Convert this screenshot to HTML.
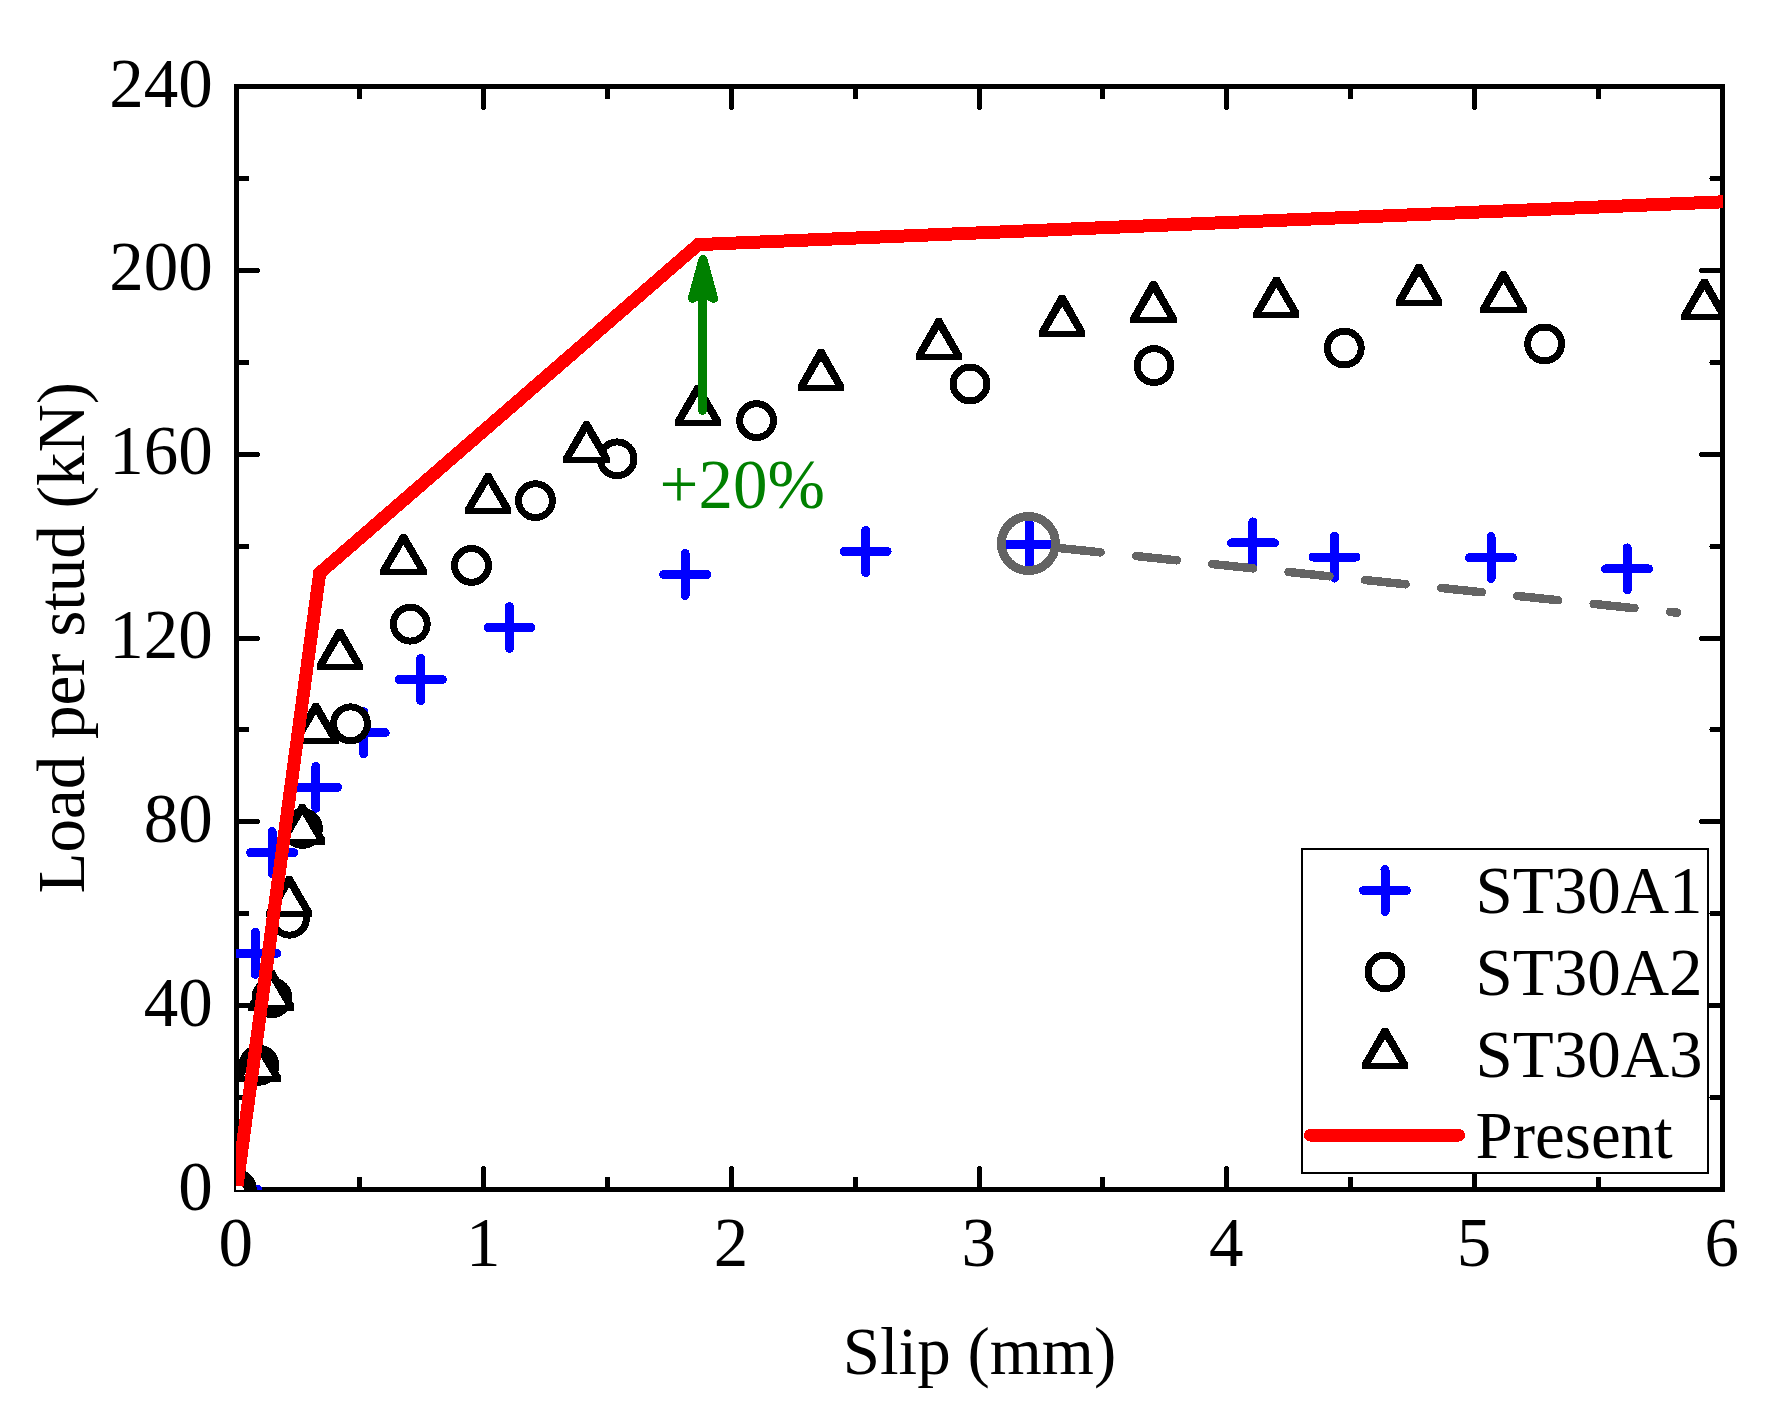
<!DOCTYPE html>
<html lang="en"><head><meta charset="utf-8"><title>Load per stud vs Slip</title>
<style>html,body{margin:0;padding:0;background:#fff;}svg{display:block;}text{font-family:'Liberation Serif', serif;font-size:67px;fill:#000;}</style>
</head><body>
<svg width="1782" height="1415" viewBox="0 0 1782 1415" shape-rendering="crispEdges">
<rect x="0" y="0" width="1782" height="1415" fill="#fff"/>
<defs><clipPath id="plot"><rect x="236" y="86" width="1487" height="1104"/></clipPath></defs>
<g stroke="#000" stroke-width="5" fill="none" stroke-linecap="round">
<path d="M359.50 1189.50v-10.50 M359.50 86.50v10.50"/>
<path d="M483.50 1189.50v-21.00 M483.50 86.50v21.00"/>
<path d="M607.50 1189.50v-10.50 M607.50 86.50v10.50"/>
<path d="M731.50 1189.50v-21.00 M731.50 86.50v21.00"/>
<path d="M855.50 1189.50v-10.50 M855.50 86.50v10.50"/>
<path d="M979.50 1189.50v-21.00 M979.50 86.50v21.00"/>
<path d="M1102.50 1189.50v-10.50 M1102.50 86.50v10.50"/>
<path d="M1226.50 1189.50v-21.00 M1226.50 86.50v21.00"/>
<path d="M1350.50 1189.50v-10.50 M1350.50 86.50v10.50"/>
<path d="M1474.50 1189.50v-21.00 M1474.50 86.50v21.00"/>
<path d="M1598.50 1189.50v-10.50 M1598.50 86.50v10.50"/>
<path d="M236.50 1097.50h10.50 M1722.50 1097.50h-10.50"/>
<path d="M236.50 1005.50h21.00 M1722.50 1005.50h-21.00"/>
<path d="M236.50 913.50h10.50 M1722.50 913.50h-10.50"/>
<path d="M236.50 821.50h21.00 M1722.50 821.50h-21.00"/>
<path d="M236.50 729.50h10.50 M1722.50 729.50h-10.50"/>
<path d="M236.50 638.50h21.00 M1722.50 638.50h-21.00"/>
<path d="M236.50 546.50h10.50 M1722.50 546.50h-10.50"/>
<path d="M236.50 454.50h21.00 M1722.50 454.50h-21.00"/>
<path d="M236.50 362.50h10.50 M1722.50 362.50h-10.50"/>
<path d="M236.50 270.50h21.00 M1722.50 270.50h-21.00"/>
<path d="M236.50 178.50h10.50 M1722.50 178.50h-10.50"/>
</g>
<rect x="236.50" y="86.50" width="1486.00" height="1103.00" fill="none" stroke="#000" stroke-width="5" shape-rendering="crispEdges"/>
<g clip-path="url(#plot)">
<g stroke="#0000ff" stroke-width="9" stroke-linecap="round">
<path d="M215.00 1189.50h43 M236.50 1168.50v42"/>
<path d="M233.80 953.30h43 M255.30 932.30v42"/>
<path d="M250.60 852.60h43 M272.10 831.60v42"/>
<path d="M294.40 787.30h43 M315.90 766.30v42"/>
<path d="M342.20 732.70h43 M363.70 711.70v42"/>
<path d="M399.30 679.50h43 M420.80 658.50v42"/>
<path d="M488.00 627.50h43 M509.50 606.50v42"/>
<path d="M663.70 574.50h43 M685.20 553.50v42"/>
<path d="M844.20 551.50h43 M865.70 530.50v42"/>
<path d="M1008.00 544.50h43 M1029.50 523.50v42"/>
<path d="M1231.40 542.90h43 M1252.90 521.90v42"/>
<path d="M1313.00 557.10h43 M1334.50 536.10v42"/>
<path d="M1469.50 557.60h43 M1491.00 536.60v42"/>
<path d="M1605.70 568.90h43 M1627.20 547.90v42"/>
</g>
<g stroke="#000" stroke-width="7" fill="#fff">
<circle cx="236.50" cy="1189.50" r="16.9"/>
<circle cx="259.00" cy="1065.30" r="16.9"/>
<circle cx="271.90" cy="997.70" r="16.9"/>
<circle cx="289.50" cy="918.20" r="16.9"/>
<circle cx="302.40" cy="828.40" r="16.9"/>
<circle cx="350.50" cy="723.80" r="16.9"/>
<circle cx="410.30" cy="624.20" r="16.9"/>
<circle cx="471.50" cy="565.40" r="16.9"/>
<circle cx="535.50" cy="500.70" r="16.9"/>
<circle cx="617.10" cy="458.80" r="16.9"/>
<circle cx="756.60" cy="420.60" r="16.9"/>
<circle cx="970.00" cy="384.00" r="16.9"/>
<circle cx="1154.00" cy="365.60" r="16.9"/>
<circle cx="1344.30" cy="348.10" r="16.9"/>
<circle cx="1544.60" cy="343.90" r="16.9"/>
</g>
<path fill="#000" d="M213.45 1206.50v-5.9L233.80 1164.50h5.4L259.55 1200.60v5.9z"/>
<path fill="#fff" d="M222.30 1200.55L236.50 1176.40L250.70 1200.55z"/>
<path fill="#000" d="M234.95 1082.30v-5.9L255.30 1041.00h5.4L281.05 1076.40v5.9z"/>
<path fill="#fff" d="M243.80 1076.35L258.00 1052.20L272.20 1076.35z"/>
<path fill="#000" d="M248.35 1010.90v-5.9L268.70 969.60h5.4L294.45 1005.00v5.9z"/>
<path fill="#fff" d="M257.20 1004.95L271.40 980.80L285.60 1004.95z"/>
<path fill="#000" d="M266.15 917.30v-5.9L286.50 876.20h5.4L312.25 911.40v5.9z"/>
<path fill="#fff" d="M275.00 911.35L289.20 887.20L303.40 911.35z"/>
<path fill="#000" d="M279.35 844.90v-5.9L299.70 804.10h5.4L325.45 839.00v5.9z"/>
<path fill="#fff" d="M288.20 838.95L302.40 814.80L316.60 838.95z"/>
<path fill="#000" d="M292.85 744.20v-5.9L313.20 703.10h5.4L338.95 738.30v5.9z"/>
<path fill="#fff" d="M301.70 738.25L315.90 714.10L330.10 738.25z"/>
<path fill="#000" d="M316.75 670.10v-5.9L337.10 628.70h5.4L362.85 664.20v5.9z"/>
<path fill="#fff" d="M325.60 664.15L339.80 640.00L354.00 664.15z"/>
<path fill="#000" d="M380.45 574.90v-5.9L400.80 534.20h5.4L426.55 569.00v5.9z"/>
<path fill="#fff" d="M389.30 568.95L403.50 544.80L417.70 568.95z"/>
<path fill="#000" d="M465.05 513.90v-5.9L485.40 473.20h5.4L511.15 508.00v5.9z"/>
<path fill="#fff" d="M473.90 507.95L488.10 483.80L502.30 507.95z"/>
<path fill="#000" d="M563.45 462.50v-5.9L583.80 421.40h5.4L609.55 456.60v5.9z"/>
<path fill="#fff" d="M572.30 456.55L586.50 432.40L600.70 456.55z"/>
<path fill="#000" d="M674.95 426.00v-5.9L695.30 384.70h5.4L721.05 420.10v5.9z"/>
<path fill="#fff" d="M683.80 420.05L698.00 395.90L712.20 420.05z"/>
<path fill="#000" d="M797.95 390.90v-5.9L818.30 348.90h5.4L844.05 385.00v5.9z"/>
<path fill="#fff" d="M806.80 384.95L821.00 360.80L835.20 384.95z"/>
<path fill="#000" d="M915.75 359.85v-5.9L936.10 318.40h5.4L961.85 353.95v5.9z"/>
<path fill="#fff" d="M924.60 353.90L938.80 329.75L953.00 353.90z"/>
<path fill="#000" d="M1039.05 336.70v-5.9L1059.40 294.90h5.4L1085.15 330.80v5.9z"/>
<path fill="#fff" d="M1047.90 330.75L1062.10 306.60L1076.30 330.75z"/>
<path fill="#000" d="M1130.45 322.90v-5.9L1150.80 281.10h5.4L1176.55 317.00v5.9z"/>
<path fill="#fff" d="M1139.30 316.95L1153.50 292.80L1167.70 316.95z"/>
<path fill="#000" d="M1253.35 317.90v-5.9L1273.70 276.80h5.4L1299.45 312.00v5.9z"/>
<path fill="#fff" d="M1262.20 311.95L1276.40 287.80L1290.60 311.95z"/>
<path fill="#000" d="M1395.95 305.80v-5.9L1416.30 264.00h5.4L1442.05 299.90v5.9z"/>
<path fill="#fff" d="M1404.80 299.85L1419.00 275.70L1433.20 299.85z"/>
<path fill="#000" d="M1480.45 313.10v-5.9L1500.80 271.20h5.4L1526.55 307.20v5.9z"/>
<path fill="#fff" d="M1489.30 307.15L1503.50 283.00L1517.70 307.15z"/>
<path fill="#000" d="M1681.35 320.10v-5.9L1701.70 278.70h5.4L1727.45 314.20v5.9z"/>
<path fill="#fff" d="M1690.20 314.15L1704.40 290.00L1718.60 314.15z"/>
<g stroke="#646464" stroke-width="8.5" stroke-linecap="round" fill="none">
<path d="M1057.00 547.80L1100.60 552.36"/>
<path d="M1136.07 556.07L1176.87 560.34"/>
<path d="M1212.34 564.05L1253.14 568.31"/>
<path d="M1288.61 572.02L1329.41 576.29"/>
<path d="M1364.88 580.00L1405.68 584.27"/>
<path d="M1441.15 587.98L1481.95 592.25"/>
<path d="M1517.42 595.96L1558.22 600.22"/>
<path d="M1593.69 603.93L1634.49 608.20"/>
<path d="M1669.96 611.91L1677.20 612.67"/>
</g>
<circle cx="1028.4" cy="543.5" r="27.05" fill="none" stroke="#646464" stroke-width="8.9"/>
<path d="M237.00 1185.80L319.70 573.00L698.20 244.60L1732.50 201.42" fill="none" stroke="#ff0000" stroke-width="13" stroke-linejoin="miter"/>
<path d="M702.55 410.2V296" stroke="#008000" stroke-width="9.1" stroke-linecap="round" fill="none"/>
<path d="M703 259.5L713.6 298.3L703 293L692.4 298.3z" fill="#008000" stroke="#008000" stroke-width="9" stroke-linejoin="round"/>
</g>
<text x="659.5" y="507.8" style="fill:#008000;font-size:69px">+20%</text>
<rect x="1302" y="849" width="406" height="324" fill="#fff" stroke="#000" stroke-width="2" shape-rendering="crispEdges"/>
<path d="M1363.50 890.50h43 M1385.00 869.50v42" stroke="#0000ff" stroke-width="9" stroke-linecap="round"/>
<circle cx="1385.00" cy="971.90" r="16.9" stroke="#000" stroke-width="7" fill="#fff"/>
<path fill="#000" d="M1361.95 1069.10v-5.9L1382.30 1027.90h5.4L1408.05 1063.20v5.9z"/>
<path fill="#fff" d="M1370.80 1063.15L1385.00 1039.00L1399.20 1063.15z"/>
<path d="M1310.4 1135.3H1458.6" stroke="#ff0000" stroke-width="12.7" stroke-linecap="round"/>
<text x="1475.5" y="913.4">ST30A1</text>
<text x="1475.5" y="995.4">ST30A2</text>
<text x="1475.5" y="1077.3">ST30A3</text>
<text x="1475.5" y="1158.2">Present</text>
<text x="235.70" y="1265.8" text-anchor="middle" style="font-size:69px">0</text>
<text x="483.37" y="1265.8" text-anchor="middle" style="font-size:69px">1</text>
<text x="731.03" y="1265.8" text-anchor="middle" style="font-size:69px">2</text>
<text x="978.70" y="1265.8" text-anchor="middle" style="font-size:69px">3</text>
<text x="1226.37" y="1265.8" text-anchor="middle" style="font-size:69px">4</text>
<text x="1474.03" y="1265.8" text-anchor="middle" style="font-size:69px">5</text>
<text x="1721.70" y="1265.8" text-anchor="middle" style="font-size:69px">6</text>
<text x="212.7" y="1209.60" text-anchor="end" style="font-size:69px">0</text>
<text x="212.7" y="1025.77" text-anchor="end" style="font-size:69px">40</text>
<text x="212.7" y="841.93" text-anchor="end" style="font-size:69px">80</text>
<text x="212.7" y="658.10" text-anchor="end" style="font-size:69px">120</text>
<text x="212.7" y="474.27" text-anchor="end" style="font-size:69px">160</text>
<text x="212.7" y="290.43" text-anchor="end" style="font-size:69px">200</text>
<text x="212.7" y="106.60" text-anchor="end" style="font-size:69px">240</text>
<text x="979.5" y="1374" text-anchor="middle">Slip (mm)</text>
<text transform="translate(83.6 637.7) rotate(-90)" text-anchor="middle">Load per stud (kN)</text>
</svg>
</body></html>
